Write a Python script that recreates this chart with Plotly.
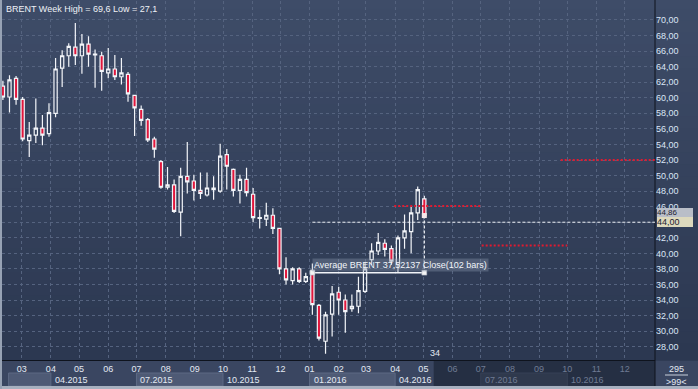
import plotly.graph_objects as go
import pandas as pd

# ---------------- data ----------------
first_week = "2015-02-09"
opens  = [61.5, 60.1, 62.5, 59.8, 54.5, 55.2, 56.1, 55.4, 58.0, 63.8,
          65.4, 66.5, 65.4, 66.9, 65.5, 65.4, 63.2, 63.7, 62.7, 63.0,
          60.3, 58.5, 57.2, 54.7, 51.8, 48.5, 48.8, 45.3, 49.9, 49.3,
          48.1, 47.5, 48.2, 48.0, 52.7, 50.8, 48.1, 49.5, 47.6, 44.5,
          44.4, 44.9, 43.2, 38.0, 36.5, 38.0, 36.4, 37.8, 33.3, 28.7,
          32.2, 35.0, 34.0, 32.9, 33.2, 35.1, 39.2, 40.3, 41.3, 40.6,
          38.6, 42.0, 42.8, 45.2, 47.0]
highs  = [62.2, 62.9, 62.8, 60.1, 56.9, 59.9, 57.8, 59.3, 65.1, 66.1,
          67.0, 69.6, 68.2, 67.9, 66.2, 65.9, 66.4, 65.5, 65.1, 63.3,
          60.4, 59.0, 57.4, 55.0, 52.0, 51.1, 49.5, 51.0, 54.3, 50.1,
          50.4, 50.4, 49.9, 54.1, 53.4, 50.9, 50.1, 51.0, 48.4, 45.6,
          46.5, 45.8, 43.3, 39.5, 38.2, 38.2, 37.5, 38.7, 33.5, 32.5,
          35.8, 35.7, 34.7, 34.7, 37.0, 38.9, 41.3, 42.6, 41.8, 41.0,
          42.3, 45.0, 46.0, 48.6, 47.4]
lows   = [59.7, 58.1, 59.1, 54.4, 52.4, 54.2, 53.9, 55.0, 57.5, 61.4,
          64.0, 64.2, 63.1, 64.0, 61.3, 60.9, 62.5, 62.3, 61.7, 59.5,
          55.1, 56.4, 54.3, 52.3, 48.3, 48.2, 45.2, 42.2, 47.7, 46.8,
          47.0, 47.3, 46.9, 47.8, 48.2, 47.3, 46.4, 47.3, 44.0, 43.2,
          43.5, 42.5, 37.3, 36.0, 36.0, 36.2, 36.2, 32.1, 28.8, 27.1,
          29.3, 32.1, 29.8, 32.5, 32.3, 34.9, 38.5, 39.8, 39.6, 38.5,
          37.6, 40.6, 40.0, 44.3, 44.7]
closes = [60.1, 62.3, 59.8, 54.7, 55.2, 56.1, 55.2, 58.1, 63.7, 65.4,
          66.6, 65.4, 66.9, 65.6, 65.6, 63.4, 63.7, 62.7, 63.2, 60.5,
          58.7, 57.1, 54.6, 53.4, 48.5, 48.8, 45.4, 49.9, 49.2, 48.1,
          47.7, 48.4, 48.4, 52.5, 51.2, 48.1, 49.5, 47.8, 44.6, 44.6,
          44.9, 43.2, 38.0, 36.6, 38.0, 36.4, 37.0, 33.4, 29.1, 32.1,
          34.8, 34.0, 32.5, 33.2, 35.2, 38.0, 40.3, 41.4, 40.5, 39.0,
          42.0, 42.9, 45.2, 48.2, 44.86]

title_text = "BRENT Week High = 69,6 Low = 27,1"
price_ticks = list(range(28, 72, 2))

month_starts = pd.date_range("2015-03-01", "2016-12-01", freq="MS")
month_labels = [d.strftime("%m") for d in month_starts]
quarter_starts = pd.date_range("2015-01-01", "2016-10-01", freq="QS")
quarter_labels = [d.strftime("%m.%Y") for d in quarter_starts]

avg_value = 37.52137
avg_bars = 102
avg_from_bar = 47
user_level = 44.00

red_levels = [46.1, 41.0, 52.0]
red_level_from = ["2016-03-31", "2016-07-02", "2016-09-24"]
red_level_to = ["2016-07-01", "2016-10-01", "2017-01-05"]

bars_count_label = "34"
corner_top = "295"
corner_bottom = ">99<"

# ---------------- derived ----------------
def fmt(v):
    return f"{v:.2f}".replace(".", ",")

# the axis label at the user level is replaced by its tag
price_ticktext = ["" if v == user_level else fmt(v) for v in price_ticks]

dates = [pd.Timestamp(first_week) + pd.Timedelta(weeks=i) for i in range(len(opens))]
last_date = dates[-1]
x_range = ["2015-02-08 01:00", "2017-01-02 06:00"]
y_range = [26.29, 72.44]
future_from = last_date + pd.Timedelta(days=10)

W, H = 698, 389
ml, mr, mt, mb = 2, 43, 1, 29
pw, ph = W - ml - mr, H - mt - mb

def px_x(p):  # pixel column -> paper
    return (p - ml) / pw

def px_y(p):  # pixel row -> paper
    return (H - mb - p) / ph

FONT = "Liberation Sans, Arial, sans-serif"
txt = "#e3e9f3"
dim = "#6f7b93"
grid = "#55637f"

fig = go.Figure()

fig.add_trace(go.Candlestick(
    x=dates, open=opens, high=highs, low=lows, close=closes,
    increasing=dict(line=dict(color="#f3f5f9", width=1.2), fillcolor="rgba(0,0,0,0)"),
    decreasing=dict(line=dict(color="#f3f5f9", width=1.2), fillcolor="#e2163c"),
    whiskerwidth=0, hoverinfo="skip", showlegend=False))

# average line with end markers
avg_x = [dates[avg_from_bar], last_date]
fig.add_trace(go.Scatter(
    x=avg_x, y=[avg_value, avg_value], mode="lines+markers",
    line=dict(color="#f2f4f8", width=1.5),
    marker=dict(symbol="square", size=5, color="#f4f4f4", line=dict(color="#9aa3b5", width=0.5)),
    hoverinfo="skip", showlegend=False))
fig.add_trace(go.Scatter(
    x=[last_date, last_date], y=[closes[-1], avg_value], mode="lines",
    line=dict(color="#f2f4f8", width=1.2, dash="3px,2px"),
    hoverinfo="skip", showlegend=False))
fig.add_trace(go.Scatter(
    x=[last_date], y=[closes[-1]], mode="markers",
    marker=dict(symbol="square", size=5, color="#f6e8ea"),
    hoverinfo="skip", showlegend=False))

shapes = []
# background gradient (plot + right axis area)
top_c, bot_c = (62, 76, 104), (44, 56, 81)
nb = 30
for i in range(nb):
    t = i / (nb - 1)
    c = tuple(round(top_c[k] + (bot_c[k] - top_c[k]) * t) for k in range(3))
    shapes.append(dict(type="rect", xref="paper", yref="paper", layer="below",
                       x0=0, x1=1 + mr / pw, y0=1 - (i + 1) / nb - 0.002, y1=1 - i / nb + 0.012,
                       fillcolor="rgb(%d,%d,%d)" % c, line=dict(width=0)))
# quarter boxes (alternate)
for i, qs in enumerate(quarter_starts):
    if i % 2 == 0:
        qe = quarter_starts[i + 1] if i + 1 < len(quarter_starts) else pd.Timestamp(x_range[1])
        x0 = max(qs, pd.Timestamp(x_range[0]) + pd.Timedelta(days=7))
        shapes.append(dict(type="rect", xref="x", yref="paper", layer="below",
                           x0=x0, x1=qe, y0=px_y(386), y1=px_y(373),
                           fillcolor="#4e5a75", line=dict(color="#5d6984", width=1)))
# future dim overlay in the time scale
shapes.append(dict(type="rect", xref="x", yref="paper", layer="below",
                   x0=future_from, x1=x_range[1], y0=px_y(386), y1=0,
                   fillcolor="rgba(16,23,38,0.5)", line=dict(width=0)))
# frame
shapes.append(dict(type="rect", xref="paper", yref="paper", x0=px_x(0), x1=px_x(W),
                   y0=px_y(H), y1=px_y(386), fillcolor="#a7b0bf", line=dict(width=0)))
shapes.append(dict(type="rect", xref="paper", yref="paper", x0=px_x(0), x1=0,
                   y0=px_y(H), y1=1 + mt / ph, fillcolor="#97a2b4", line=dict(width=0)))
shapes.append(dict(type="line", xref="paper", yref="paper", x0=1, x1=1,
                   y0=px_y(386), y1=1 + mt / ph, line=dict(color="#0e131d", width=1)))
shapes.append(dict(type="line", xref="paper", yref="paper", x0=px_x(665), x1=px_x(688),
                   y0=px_y(375), y1=px_y(375), line=dict(color="#c9d0dc", width=1)))
# red dotted levels
for v, a, b in zip(red_levels, red_level_from, red_level_to):
    shapes.append(dict(type="line", xref="x", yref="y", x0=a, x1=b, y0=v, y1=v,
                       line=dict(color="#e01a30", width=2, dash="2px,2px")))
# user horizontal level
shapes.append(dict(type="line", xref="x", yref="y", x0=dates[avg_from_bar], x1=x_range[1],
                   y0=user_level, y1=user_level,
                   line=dict(color="#eef0f4", width=1, dash="3px,2px")))

annotations = []
annotations.append(dict(xref="paper", yref="paper", x=0, y=1, xanchor="left", yanchor="top",
                        xshift=2, yshift=-1, text=title_text, showarrow=False,
                        font=dict(family=FONT, size=9, color="#eef1f6")))
annotations.append(dict(xref="x", yref="y", x=dates[avg_from_bar], y=avg_value,
                        xanchor="left", yanchor="bottom", yshift=1,
                        text=f"Average BRENT {avg_value:.5f}".replace(".", ",") + f" Close({avg_bars} bars)",
                        showarrow=False, bgcolor="rgba(135,146,168,0.38)", borderpad=1,
                        font=dict(family=FONT, size=9, color="#f2f5fa")))
for qs, ql in zip(quarter_starts, quarter_labels):
    if qs <= pd.Timestamp(x_range[0]):
        continue
    annotations.append(dict(xref="x", yref="paper", x=qs, y=px_y(380), xanchor="left",
                            yanchor="middle", xshift=2, text=ql, showarrow=False,
                            font=dict(family=FONT, size=9, color=txt if qs < future_from else dim)))
# price tags on the axis (last close tag sits just above the user-level tag)
annotations.append(dict(xref="paper", yref="y", x=1, y=user_level, xanchor="left", yanchor="bottom",
                        xshift=2, yshift=5, text=fmt(closes[-1]), showarrow=False,
                        bgcolor="#b9bec8", borderwidth=0, width=36, height=9, align="left",
                        borderpad=0, font=dict(family=FONT, size=8, color="#1d2230")))
annotations.append(dict(xref="paper", yref="y", x=1, y=user_level, xanchor="left", yanchor="middle",
                        xshift=2, text=fmt(user_level), showarrow=False,
                        bgcolor="#ddd9bd", borderwidth=0, width=36, height=10, align="left",
                        borderpad=0, font=dict(family=FONT, size=9, color="#1d2230")))
annotations.append(dict(xref="x", yref="paper", x=last_date, y=0, xanchor="left", yanchor="bottom",
                        xshift=4, text=bars_count_label, showarrow=False,
                        font=dict(family=FONT, size=9, color=txt)))
annotations.append(dict(xref="paper", yref="paper", x=px_x(676), y=px_y(369), xanchor="center",
                        yanchor="middle", text=corner_top, showarrow=False,
                        font=dict(family=FONT, size=9, color=txt)))
annotations.append(dict(xref="paper", yref="paper", x=px_x(676), y=px_y(382), xanchor="center",
                        yanchor="middle", text=corner_bottom, showarrow=False,
                        font=dict(family=FONT, size=9, color=txt)))

month_ticktext = [lab if d < future_from else f'<span style="color:{dim}">{lab}</span>'
                  for d, lab in zip(month_starts, month_labels)]

fig.update_layout(
    width=W, height=H, margin=dict(l=ml, r=mr, t=mt, b=mb, pad=0, autoexpand=False),
    paper_bgcolor="#3a4661", plot_bgcolor="#34415d",
    font=dict(family=FONT, size=9, color=txt),
    showlegend=False, shapes=shapes, annotations=annotations, hovermode=False,
    xaxis=dict(type="date", range=x_range, tickvals=month_starts, ticktext=month_ticktext,
               showgrid=True, gridcolor=grid, griddash="3px,3px", gridwidth=1,
               ticks="", showline=True, linecolor="#0e131d", linewidth=1, zeroline=False,
               rangeslider=dict(visible=False), tickfont=dict(size=9, color=txt),
               fixedrange=True, automargin=False),
    yaxis=dict(side="right", range=y_range, tickvals=price_ticks, ticktext=price_ticktext,
               showgrid=True, gridcolor=grid, griddash="3px,3px", gridwidth=1,
               ticks="", showline=False, zeroline=False, automargin=False,
               tickfont=dict(size=9, color="#dbe6f6"), fixedrange=True),
)

fig.write_html("out.html", config={"displayModeBar": False},
               post_script="document.body.style.margin='0';document.body.style.overflow='hidden';")
